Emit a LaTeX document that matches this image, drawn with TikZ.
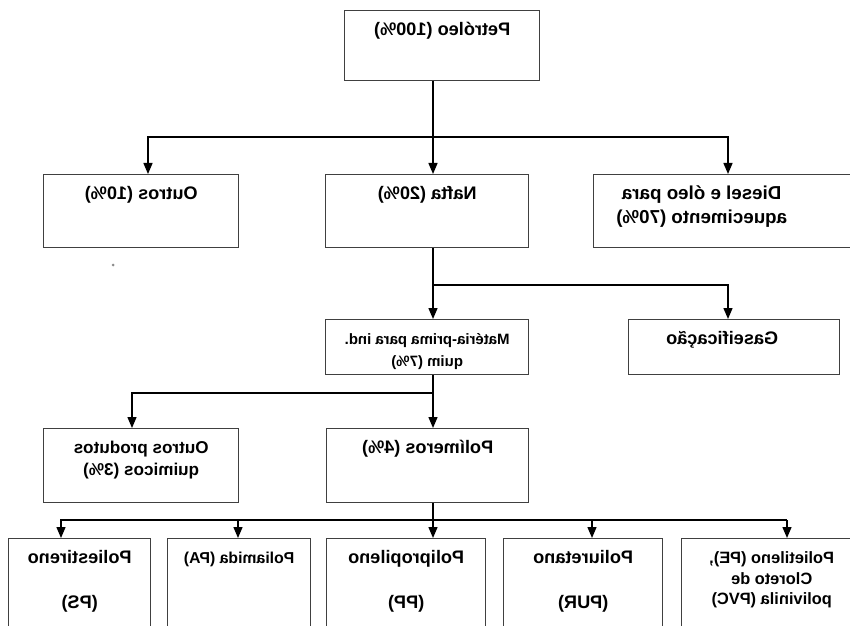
\documentclass[tikz,border=0pt]{standalone}
\usepackage{fontspec}
\setmainfont{Liberation Sans}
\usepackage{graphicx}
\usetikzlibrary{arrows.meta}
\usetikzlibrary{positioning}
\newlength{\px}
\setlength{\px}{0.03cm}
\newcommand{\mirrortext}[4][0]{\reflectbox{\parbox[c][#3\px][t]{#2\px}{\centering\leftskip=#1\px plus 1fil\rule{0pt}{25\px}#4}}}
\tikzset{
    stage/.style={
           draw=black!75, line width=1.2pt,
           inner sep=0pt, anchor=north west,
           font=\fontsize{15.5}{19}\selectfont\bfseries,
           },
}
\tikzset{
    flow/.style={
           line width=1.2pt,
           -{Triangle[length=0.33cm,width=0.27cm]},
           },
}
\begin{document}
\begin{tikzpicture}[x=0.03cm,y=-0.03cm]
\useasboundingbox (0,0) rectangle (850,626);
\clip (0,0) rectangle (850,626);
\node[stage] (petroleo) at (344,10) {\mirrortext{195}{70}{Petróleo (100\%)}};
\node[stage] (outros) at (43,174) {\mirrortext{195}{73}{Outros (10\%)}};
\node[stage] (nafta) at (325,174) {\mirrortext{203}{73}{Nafta (20\%)}};
\node[stage] (diesel) at (593,174) {\mirrortext[46]{262}{73}{\fontsize{16}{20}\selectfont Diesel e óleo para\\aquecimento (70\%)}};
\node[stage] (materia) at (325,319) {\mirrortext{203}{55}{\fontsize{12.8}{19}\selectfont Matéria-prima para ind.\\quim (7\%)}};
\node[stage] (gaseif) at (628,319) {\mirrortext[24]{211}{55}{Gaseificação}};
\node[stage] (outprod) at (43,428) {\mirrortext{195}{74}{\fontsize{14.6}{19}\selectfont Outros produtos\\quimicos (3\%)}};
\node[stage] (polimeros) at (326,428) {\mirrortext{202}{74}{Polímeros (4\%)}};
\node[stage] (ps) at (8,538) {\mirrortext{142}{100}{Poliestireno\\[19pt](PS)}};
\node[stage] (pa) at (167,538) {\mirrortext{143}{100}{\fontsize{13.5}{17.5}\selectfont Poliamida (PA)}};
\node[stage] (pp) at (326,538) {\mirrortext{159}{100}{Polipropileno\\[19pt](PP)}};
\node[stage] (pur) at (503,538) {\mirrortext{159}{100}{Poliuretano\\[19pt](PUR)}};
\node[stage] (pe) at (681,538) {\mirrortext{180}{100}{\fontsize{14}{17.5}\selectfont Polietileno (PE),\\Cloreto de\\polivinila (PVC)}};
\coordinate (spine) at (433,0);
\coordinate (fork1) at (148,137);
\coordinate (fork1r) at (728,137);
\coordinate (fork2) at (728,285);
\coordinate (fork3) at (132,393);
\coordinate (fork4) at (61,520);
\coordinate (fork4r) at (787,520);
\draw[flow] (petroleo.south -| spine) -- (nafta.north -| spine);
\draw[flow] (spine |- fork1) -- (fork1) -- (fork1 |- outros.north);
\draw[flow] (spine |- fork1r) -- (fork1r) -- (fork1r |- diesel.north);
\draw[flow] (nafta.south -| spine) -- (materia.north -| spine);
\draw[flow] (spine |- fork2) -- (fork2) -- (fork2 |- gaseif.north);
\draw[flow] (materia.south -| spine) -- (polimeros.north -| spine);
\draw[flow] (spine |- fork3) -- (fork3) -- (fork3 |- outprod.north);
\draw[flow] (polimeros.south -| spine) -- (pp.north -| spine);
\draw[flow] (spine |- fork4) -- (fork4) -- (fork4 |- ps.north);
\draw[flow] (fork4r) -- (fork4r |- pe.north);
\draw[line width=1.2pt] (spine |- fork4r) -- (fork4r);
\draw[flow] (238,520) -- (238,520 |- pa.north);
\draw[flow] (592,520) -- (592,520 |- pur.north);
\fill[black!45] (113,265) circle (1.5);
\end{tikzpicture}
\end{document}
